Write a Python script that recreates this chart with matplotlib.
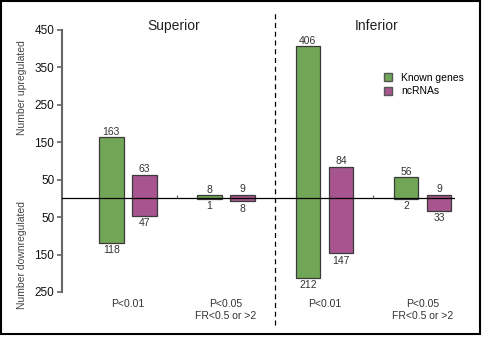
import matplotlib
matplotlib.use('Agg')
import matplotlib.pyplot as plt
import numpy as np
from matplotlib.patches import Rectangle
from matplotlib.lines import Line2D

plt.rcParams['font.family'] = ['Liberation Sans', 'DejaVu Sans']

# data
regions = ['Superior', 'Inferior']
groups = ['P<0.01', 'P<0.05\nFR<0.5 or >2', 'P<0.01', 'P<0.05\nFR<0.5 or >2']
known_up = [163, 8, 406, 56]
known_down = [118, 1, 212, 2]
nc_up = [63, 9, 84, 9]
nc_down = [47, 8, 147, 33]
yticks = [-250, -150, -50, 50, 150, 250, 350, 450]

green = '#70a656'
purple = '#a8558f'
edge = '#3a3a3a'
txt = '#333333'

fig = plt.figure(figsize=(4.83, 3.37), dpi=100)
ax = fig.add_axes([62/483, 45/337, 393/483, 262/337])

x = np.arange(len(groups))
w = 0.25
off = 0.168

up_k = np.array(known_up)
dn_k = np.array(known_down)
up_n = np.array(nc_up)
dn_n = np.array(nc_down)

ax.bar(x - off, up_k + dn_k, bottom=-dn_k, width=w, color=green, edgecolor=edge, linewidth=0.9, zorder=2)
ax.bar(x + off, up_n + dn_n, bottom=-dn_n, width=w, color=purple, edgecolor=edge, linewidth=0.9, zorder=2)

# value labels above / below each bar
for xs, ups, dns in [(x - off, up_k, dn_k), (x + off, up_n, dn_n)]:
    for xi, u, d in zip(xs, ups, dns):
        ax.annotate(str(u), (xi, u), xytext=(0, 0.5), textcoords='offset points',
                    ha='center', va='bottom', fontsize=7.5, color=txt)
        ax.annotate(str(d), (xi, -d), xytext=(0, -1.5), textcoords='offset points',
                    ha='center', va='top', fontsize=7.5, color=txt)

ax.axhline(0, color='black', linewidth=0.9, zorder=3)
# little separators between the two groups of each region
ax.vlines([0.5, 2.5], 0, 8, color='#555555', linewidth=0.8, zorder=3)
# dashed divider between regions
ax.axvline(1.5, ymin=-0.126, ymax=1.076, color='black', linestyle=(0, (4, 3)),
           linewidth=0.9, clip_on=False)

ax.set_xlim(-0.67, 3.33)
ax.set_ylim(-250, 450)
ax.set_yticks(yticks)
ax.set_yticklabels([str(abs(t)) for t in yticks], fontsize=8.5, color='#111111')
ax.set_xticks(x)
ax.set_xticklabels(groups, fontsize=7.5, color=txt)
ax.tick_params(axis='x', length=0, pad=5)
ax.tick_params(axis='y', length=3.5, width=1.2, color='#666666', pad=2)

for s in ['top', 'right', 'bottom']:
    ax.spines[s].set_visible(False)
ax.spines['left'].set_color('#666666')
ax.spines['left'].set_linewidth(1.5)
ax.spines['left'].set_bounds(-250, 450)

# region titles
trans = ax.get_xaxis_transform()
ax.text(0.47, 1.015, regions[0], transform=trans, ha='center', va='center', fontsize=10, color='#222222')
ax.text(2.53, 1.015, regions[1], transform=trans, ha='center', va='center', fontsize=10, color='#222222')

fig.text(22/483, 1 - 88/337, 'Number upregulated', rotation=90, ha='center', va='center', fontsize=7.5, color='#444444')
fig.text(22/483, 1 - 255/337, 'Number downregulated', rotation=90, ha='center', va='center', fontsize=7.5, color='#444444')

handles = [Line2D([], [], marker='s', linestyle='none', markersize=6, markerfacecolor=green, markeredgecolor='#555555'),
           Line2D([], [], marker='s', linestyle='none', markersize=6, markerfacecolor=purple, markeredgecolor='#555555')]
ax.legend(handles, ['Known genes', 'ncRNAs'], loc='upper left', bbox_to_anchor=(0.818, 0.837),
          frameon=False, fontsize=7.5, handlelength=0.8, handletextpad=0.9, labelspacing=0.35,
          borderaxespad=0, borderpad=0)

# outer frame
fig.patches.append(Rectangle((0.5/483, 3.5/337), 479/483, 333/337, transform=fig.transFigure,
                             fill=False, edgecolor='black', linewidth=1.5))

fig.savefig('out.png', dpi=100)
